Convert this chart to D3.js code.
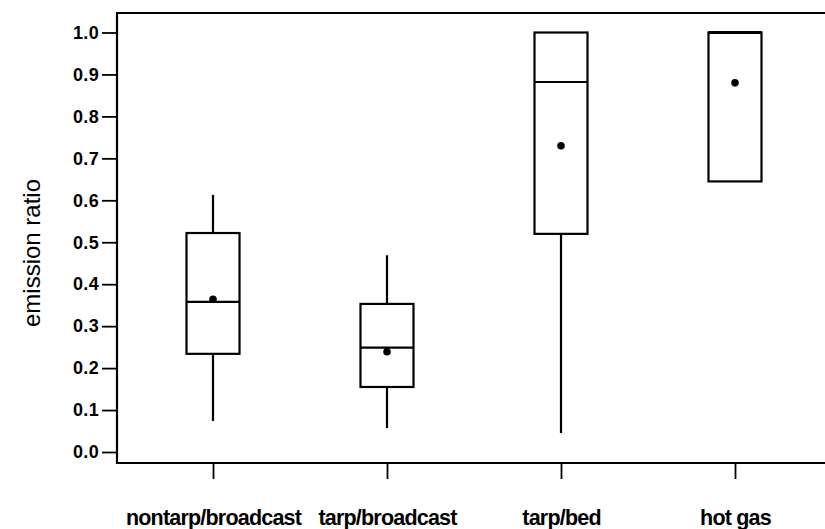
<!DOCTYPE html>
<html>
<head>
<meta charset="utf-8">
<script src="https://cdn.jsdelivr.net/npm/d3@7"></script>
<style>
  html, body { margin: 0; padding: 0; background: #fff; }
  svg { display: block; }
</style>
</head>
<body>
<svg id="chart" width="825" height="529"></svg>
<script>
// Emission ratio by application method: box summaries
const categories = ["nontarp/broadcast", "tarp/broadcast", "tarp/bed", "hot gas"];
const whiskerLow  = [0.074, 0.057, 0.045, 0.645];
const q1          = [0.234, 0.155, 0.520, 0.645];
const median      = [0.358, 0.249, 0.882, 1.000];
const q3          = [0.522, 0.353, 1.000, 1.000];
const whiskerHigh = [0.613, 0.469, 1.000, 1.000];
const means       = [0.364, 0.239, 0.730, 0.880];
const yTicks      = [0.0, 0.1, 0.2, 0.3, 0.4, 0.5, 0.6, 0.7, 0.8, 0.9, 1.0];

const rows = categories.map((c, i) => ({
  cat: c, lo: whiskerLow[i], q1: q1[i], med: median[i], q3: q3[i], hi: whiskerHigh[i], mean: means[i]
}));

const svg = d3.select("#chart");
const frame = { left: 117, top: 13, bottom: 463, right: 825 };
const font = "'Liberation Sans', Arial, Helvetica, sans-serif";

const y = d3.scaleLinear().domain([0, 1]).range([452, 32.5]);
const x = d3.scalePoint().domain(categories).range([213, 735]);
const boxW = 53;

// frame: left, top and bottom rules
const fr = svg.append("g").attr("stroke", "#000").attr("stroke-width", 2.2).attr("fill", "none");
fr.append("line").attr("x1", frame.left).attr("x2", frame.left).attr("y1", frame.top - 1).attr("y2", frame.bottom + 1);
fr.append("line").attr("x1", frame.left).attr("x2", frame.right).attr("y1", frame.top).attr("y2", frame.top);
fr.append("line").attr("x1", frame.left).attr("x2", frame.right).attr("y1", frame.bottom).attr("y2", frame.bottom);

// y axis
const yAxis = svg.append("g")
  .attr("transform", `translate(${frame.left},0)`)
  .call(d3.axisLeft(y).tickValues(yTicks).tickFormat(d3.format(".1f")).tickSize(15).tickPadding(3));
yAxis.select(".domain").remove();
yAxis.selectAll(".tick line").attr("stroke", "#000").attr("stroke-width", 1.8);
yAxis.selectAll(".tick text")
  .attr("fill", "#000")
  .style("font-family", font).style("font-weight", "bold").style("font-size", "18px")
  .style("letter-spacing", "0.3px");

// x axis
const xAxis = svg.append("g")
  .attr("transform", `translate(0,${frame.bottom})`)
  .call(d3.axisBottom(x).tickSize(16).tickPadding(31));
xAxis.select(".domain").remove();
xAxis.selectAll(".tick line").attr("stroke", "#000").attr("stroke-width", 1.8);
xAxis.selectAll(".tick text")
  .attr("fill", "#000")
  .style("font-family", font).style("font-weight", "bold").style("font-size", "21.5px")
  .style("letter-spacing", "-0.8px");

// y axis title
svg.append("text")
  .attr("transform", `translate(40,253) rotate(-90)`)
  .attr("text-anchor", "middle")
  .style("font-family", font).style("font-size", "24px")
  .attr("fill", "#000")
  .text("emission ratio");

// boxes
const g = svg.append("g").attr("stroke", "#000").attr("stroke-width", 2.2).attr("fill", "none");
const box = g.selectAll("g.box").data(rows).join("g").attr("class", "box");

box.filter(d => d.hi > d.q3).append("line")
  .attr("x1", d => x(d.cat)).attr("x2", d => x(d.cat))
  .attr("y1", d => y(d.hi)).attr("y2", d => y(d.q3));
box.filter(d => d.lo < d.q1).append("line")
  .attr("x1", d => x(d.cat)).attr("x2", d => x(d.cat))
  .attr("y1", d => y(d.q1)).attr("y2", d => y(d.lo));
box.append("rect")
  .attr("x", d => x(d.cat) - boxW / 2).attr("width", boxW)
  .attr("y", d => y(d.q3)).attr("height", d => y(d.q1) - y(d.q3));
box.append("line")
  .attr("x1", d => x(d.cat) - boxW / 2).attr("x2", d => x(d.cat) + boxW / 2)
  .attr("y1", d => y(d.med)).attr("y2", d => y(d.med))
  .attr("stroke-width", d => d.med === d.q3 ? 3.2 : 2.2);
box.append("circle")
  .attr("cx", d => x(d.cat)).attr("cy", d => y(d.mean)).attr("r", 3.8)
  .attr("fill", "#000").attr("stroke", "none");
</script>
</body>
</html>
